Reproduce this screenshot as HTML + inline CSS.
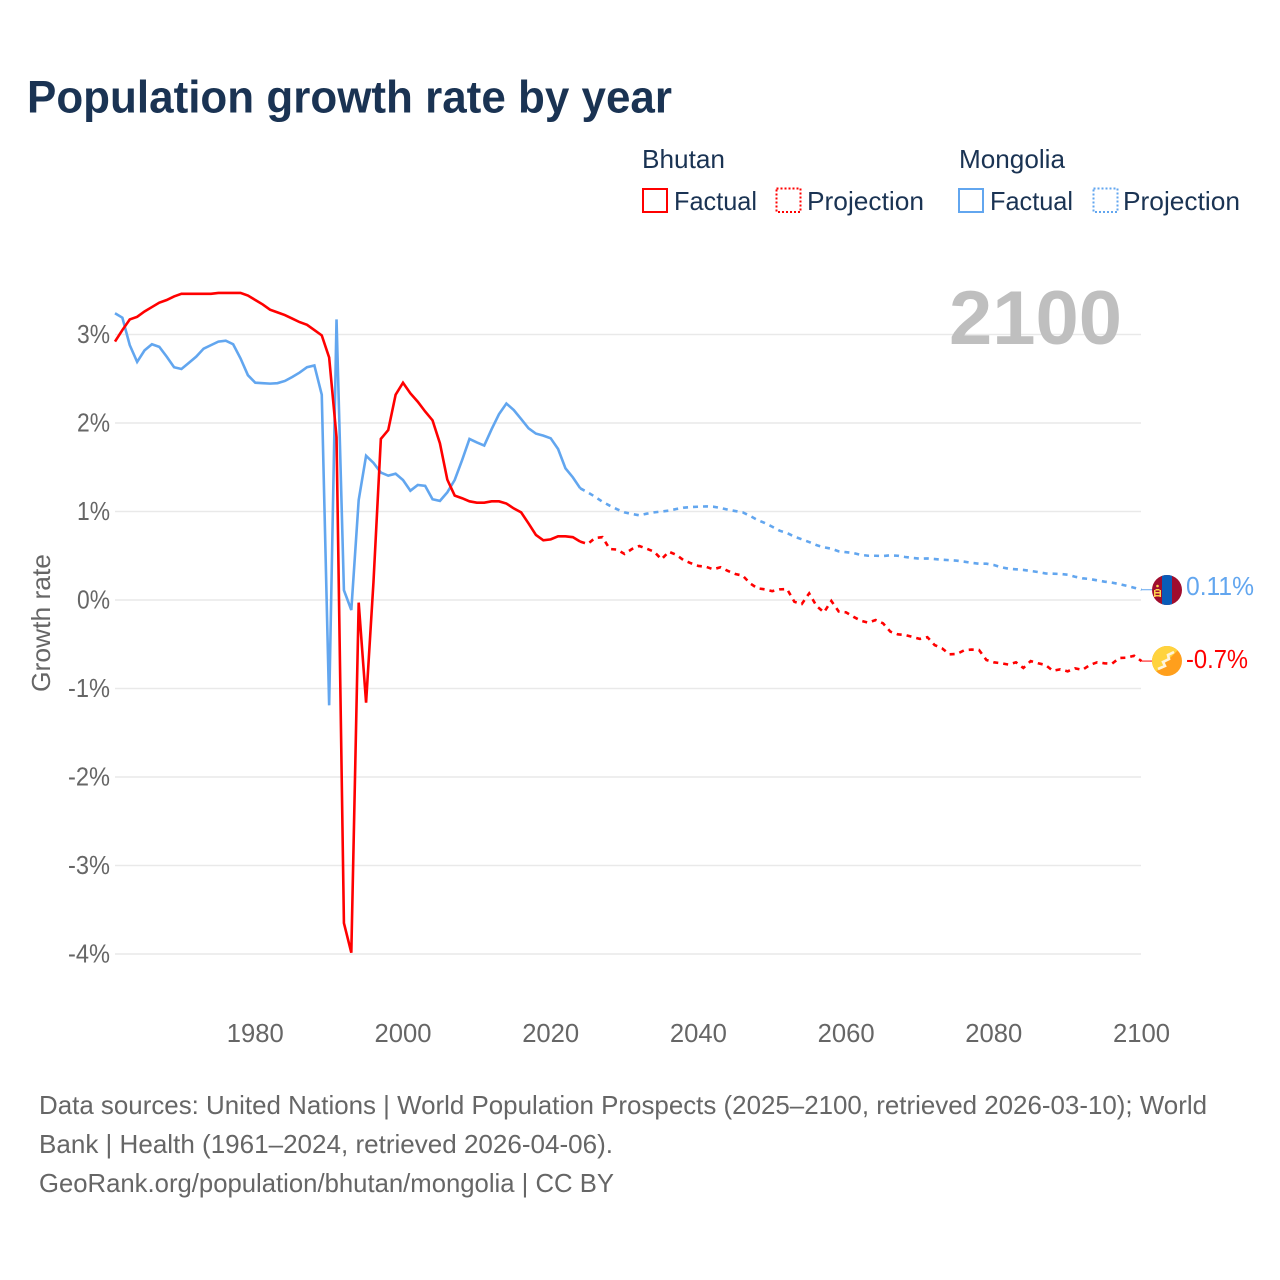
<!DOCTYPE html>
<html lang="en">
<head>
<meta charset="utf-8">
<title>Population growth rate by year</title>
<style>
html,body{margin:0;padding:0;background:#fff;}
svg{display:block;font-family:"Liberation Sans",sans-serif;}
</style>
</head>
<body>
<svg id="chart" xmlns="http://www.w3.org/2000/svg" width="1280" height="1280" viewBox="0 0 1280 1280">
  <rect width="1280" height="1280" fill="#ffffff"/>
  <text x="27" y="112.5" font-size="45" font-weight="700" fill="#1a3353" textLength="645" lengthAdjust="spacingAndGlyphs">Population growth rate by year</text>

  <g font-size="26" fill="#1a3353">
    <text x="642" y="168" textLength="83" lengthAdjust="spacingAndGlyphs">Bhutan</text>
    <rect x="643" y="189" width="24" height="23" fill="none" stroke="#ff0000" stroke-width="2"/>
    <text x="674" y="210" textLength="83" lengthAdjust="spacingAndGlyphs">Factual</text>
    <rect x="776.5" y="188.5" width="24" height="23.5" fill="none" stroke="#ff0000" stroke-width="2" stroke-dasharray="2 2"/>
    <text x="807" y="210" textLength="117" lengthAdjust="spacingAndGlyphs">Projection</text>
    <text x="959" y="168" textLength="106" lengthAdjust="spacingAndGlyphs">Mongolia</text>
    <rect x="959" y="189" width="24" height="23" fill="none" stroke="#62a6ef" stroke-width="2"/>
    <text x="990" y="210" textLength="83" lengthAdjust="spacingAndGlyphs">Factual</text>
    <rect x="1093.5" y="188.5" width="24" height="23.5" fill="none" stroke="#62a6ef" stroke-width="2" stroke-dasharray="2 2"/>
    <text x="1123" y="210" textLength="117" lengthAdjust="spacingAndGlyphs">Projection</text>
  </g>

  <g id="grid"></g>
  <text x="949" y="344" font-size="76" font-weight="700" fill="#bfbfbf" textLength="173" lengthAdjust="spacingAndGlyphs">2100</text>
  <g id="yticks" font-size="26" fill="#666666" text-anchor="end"></g>
  <g id="xticks" font-size="26" fill="#666666" text-anchor="middle"></g>
  <text transform="translate(50,692) rotate(-90)" font-size="26" fill="#666666" textLength="138" lengthAdjust="spacingAndGlyphs">Growth rate</text>
  <g id="series"></g>

  <defs>
    <clipPath id="flag-clip-mn"><circle cx="1167" cy="590" r="15"/></clipPath>
    <clipPath id="flag-clip-bt"><circle cx="1167" cy="661" r="15"/></clipPath>
  </defs>
  <g id="flag-mongolia" clip-path="url(#flag-clip-mn)">
    <rect x="1152" y="575" width="30" height="30" fill="#a00d2e"/>
    <rect x="1162" y="575" width="10" height="30" fill="#0a5cb8"/>
    <rect x="1154" y="590" width="1.5" height="7" fill="#ffd34d"/>
    <rect x="1159.5" y="590" width="1.5" height="7" fill="#ffd34d"/>
    <rect x="1155.5" y="589" width="4" height="1.5" fill="#ffd34d"/>
    <rect x="1155.5" y="592" width="4" height="1.5" fill="#ffd34d"/>
    <rect x="1155.5" y="595" width="4" height="1.5" fill="#ffd34d"/>
    <circle cx="1157.5" cy="586" r="1.3" fill="#ffd34d"/>
  </g>
  <g id="flag-bhutan" clip-path="url(#flag-clip-bt)">
    <rect x="1152" y="646" width="30" height="30" fill="#ff9f1c"/>
    <polygon points="1152,646 1182,646 1152,676" fill="#ffd33d"/>
    <polyline points="1174,652 1168,655 1169,659 1163,662 1165,666 1158,669" fill="none" stroke="#fff4dc" stroke-width="2.6"/>
  </g>

  <g id="endlabels" font-size="26"></g>

  <g font-size="26" fill="#666666">
    <text x="39" y="1114" textLength="1168" lengthAdjust="spacingAndGlyphs">Data sources: United Nations | World Population Prospects (2025–2100, retrieved 2026-03-10); World</text>
    <text x="39" y="1153" textLength="574" lengthAdjust="spacingAndGlyphs">Bank | Health (1961–2024, retrieved 2026-04-06).</text>
    <text x="39" y="1192" textLength="575" lengthAdjust="spacingAndGlyphs">GeoRank.org/population/bhutan/mongolia | CC BY</text>
  </g>
</svg>

<script>
const firstFactualYear = 1961;
const firstProjectionYear = 2025;
const yTickValues = [3, 2, 1, 0, -1, -2, -3, -4];
const xTickValues = [1980, 2000, 2020, 2040, 2060, 2080, 2100];
const bhutanEndLabel = "-0.7%";
const mongoliaEndLabel = "0.11%";

const bhutanFactual = [
  2.92,3.05,3.17,3.20,3.26,3.31,3.36,3.39,3.43,3.46,
  3.46,3.46,3.46,3.46,3.47,3.47,3.47,3.47,3.44,3.39,
  3.34,3.28,3.25,3.22,3.18,3.14,3.11,3.05,2.99,2.74,
  1.84,-3.65,-3.985,-0.03,-1.16,0.2,1.82,1.92,2.32,2.455,
  2.335,2.24,2.13,2.03,1.77,1.36,1.18,1.15,1.115,1.10,
  1.10,1.115,1.115,1.09,1.035,0.99,0.865,0.735,0.675,0.685,
  0.72,0.72,0.71,0.66
];
const bhutanProjection = [
  0.633,0.70,0.71,0.576,0.57,0.52,0.576,0.61,0.58,0.546,
  0.46,0.546,0.51,0.45,0.415,0.385,0.376,0.347,0.37,0.328,
  0.294,0.275,0.188,0.132,0.12,0.10,0.12,0.124,-0.02,-0.045,
  0.075,-0.068,-0.14,-0.011,-0.13,-0.14,-0.19,-0.234,-0.256,-0.226,
  -0.263,-0.358,-0.388,-0.395,-0.418,-0.44,-0.42,-0.51,-0.546,-0.614,
  -0.61,-0.568,-0.56,-0.565,-0.678,-0.704,-0.715,-0.73,-0.704,-0.768,
  -0.69,-0.715,-0.734,-0.80,-0.783,-0.806,-0.772,-0.79,-0.734,-0.704,
  -0.715,-0.72,-0.655,-0.652,-0.63,-0.69
];
const mongoliaFactual = [
  3.24,3.19,2.88,2.69,2.82,2.89,2.86,2.75,2.63,2.61,
  2.68,2.75,2.84,2.88,2.92,2.93,2.89,2.73,2.54,2.455,
  2.45,2.445,2.45,2.475,2.52,2.57,2.63,2.65,2.32,-1.19,
  3.17,0.11,-0.113,1.13,1.63,1.55,1.44,1.405,1.427,1.356,
  1.235,1.30,1.29,1.138,1.12,1.217,1.356,1.58,1.82,1.78,
  1.745,1.93,2.10,2.22,2.147,2.045,1.94,1.88,1.857,1.827,
  1.706,1.488,1.386,1.262
];
const mongoliaProjection = [
  1.217,1.167,1.11,1.066,1.025,0.99,0.972,0.957,0.975,0.99,
  1.0,1.01,1.028,1.043,1.05,1.054,1.058,1.054,1.04,1.02,
  1.005,0.99,0.95,0.904,0.87,0.828,0.783,0.757,0.715,0.686,
  0.655,0.62,0.595,0.58,0.55,0.54,0.53,0.51,0.50,0.50,
  0.497,0.505,0.50,0.486,0.475,0.467,0.47,0.463,0.455,0.45,
  0.444,0.433,0.42,0.41,0.41,0.395,0.37,0.354,0.347,0.34,
  0.328,0.316,0.30,0.297,0.294,0.286,0.263,0.245,0.237,0.222,
  0.207,0.196,0.18,0.16,0.139,0.116
];

const SVG_NS = "http://www.w3.org/2000/svg";
const RED = "#ff0000";
const BLUE = "#62a6ef";
function xScale(year) { return 1141.5 - (2100 - year) * 7.385; }
function yScale(value) { return 600 - 88.5 * value; }
function pathFrom(values, startYear, lead) {
  let pts = [];
  if (lead !== undefined) pts.push([xScale(startYear - 1), yScale(lead)]);
  values.forEach(function (v, i) { pts.push([xScale(startYear + i), yScale(v)]); });
  return pts.map(function (p, i) { return (i ? "L" : "M") + p[0].toFixed(2) + " " + p[1].toFixed(2); }).join(" ");
}

const grid = document.getElementById("grid");
const yticks = document.getElementById("yticks");
yTickValues.forEach(function (v) {
  const line = document.createElementNS(SVG_NS, "line");
  
  
  line.setAttribute("x1", 115);
  line.setAttribute("x2", 1141);
  line.setAttribute("y1", yScale(v));
  line.setAttribute("y2", yScale(v));
  line.setAttribute("stroke", "#e9e9e9");
  line.setAttribute("stroke-width", 1.5);
  grid.appendChild(line);
  const t = document.createElementNS(SVG_NS, "text");
  
  
  t.setAttribute("x", 110);
  t.setAttribute("y", yScale(v) + 8.5);
  t.setAttribute("textLength", v < 0 ? 42 : 33);
  t.setAttribute("lengthAdjust", "spacingAndGlyphs");
  t.textContent = v + "%";
  yticks.appendChild(t);
});

const xticks = document.getElementById("xticks");
xTickValues.forEach(function (yr) {
  const t = document.createElementNS(SVG_NS, "text");
  
  
  t.setAttribute("x", xScale(yr));
  t.setAttribute("y", 1042);
  t.setAttribute("textLength", 57);
  t.setAttribute("lengthAdjust", "spacingAndGlyphs");
  t.textContent = yr;
  xticks.appendChild(t);
});

const seriesGroup = document.getElementById("series");

const mnFactualPath = document.createElementNS(SVG_NS, "path");


mnFactualPath.setAttribute("d", pathFrom(mongoliaFactual, firstFactualYear));
mnFactualPath.setAttribute("fill", "none");
mnFactualPath.setAttribute("stroke", BLUE);
mnFactualPath.setAttribute("stroke-width", 2.6);
seriesGroup.appendChild(mnFactualPath);

const mnProjectionPath = document.createElementNS(SVG_NS, "path");


mnProjectionPath.setAttribute("d", pathFrom(mongoliaProjection, firstProjectionYear, mongoliaFactual[mongoliaFactual.length - 1]));
mnProjectionPath.setAttribute("fill", "none");
mnProjectionPath.setAttribute("stroke", BLUE);
mnProjectionPath.setAttribute("stroke-width", 2.6);
mnProjectionPath.setAttribute("stroke-dasharray", "5 5");
seriesGroup.appendChild(mnProjectionPath);

const btFactualPath = document.createElementNS(SVG_NS, "path");


btFactualPath.setAttribute("d", pathFrom(bhutanFactual, firstFactualYear));
btFactualPath.setAttribute("fill", "none");
btFactualPath.setAttribute("stroke", RED);
btFactualPath.setAttribute("stroke-width", 2.6);
seriesGroup.appendChild(btFactualPath);

const btProjectionPath = document.createElementNS(SVG_NS, "path");


btProjectionPath.setAttribute("d", pathFrom(bhutanProjection, firstProjectionYear, bhutanFactual[bhutanFactual.length - 1]));
btProjectionPath.setAttribute("fill", "none");
btProjectionPath.setAttribute("stroke", RED);
btProjectionPath.setAttribute("stroke-width", 2.6);
btProjectionPath.setAttribute("stroke-dasharray", "5 5");
seriesGroup.appendChild(btProjectionPath);

const mnLast = mongoliaProjection[mongoliaProjection.length - 1];
const btLast = bhutanProjection[bhutanProjection.length - 1];

const mnConnector = document.createElementNS(SVG_NS, "line");


mnConnector.setAttribute("x1", xScale(2100));
mnConnector.setAttribute("x2", 1152);
mnConnector.setAttribute("y1", yScale(mnLast));
mnConnector.setAttribute("y2", yScale(mnLast));
mnConnector.setAttribute("stroke", BLUE);
mnConnector.setAttribute("stroke-width", 1);
seriesGroup.appendChild(mnConnector);

const btConnector = document.createElementNS(SVG_NS, "line");


btConnector.setAttribute("x1", xScale(2100));
btConnector.setAttribute("x2", 1152);
btConnector.setAttribute("y1", yScale(btLast));
btConnector.setAttribute("y2", yScale(btLast));
btConnector.setAttribute("stroke", RED);
btConnector.setAttribute("stroke-width", 1);
seriesGroup.appendChild(btConnector);

const endLabels = document.getElementById("endlabels");

const mnLabel = document.createElementNS(SVG_NS, "text");


mnLabel.setAttribute("x", 1186);
mnLabel.setAttribute("y", 595);
mnLabel.setAttribute("fill", BLUE);
mnLabel.setAttribute("textLength", 68);
mnLabel.setAttribute("lengthAdjust", "spacingAndGlyphs");
mnLabel.textContent = mongoliaEndLabel;
endLabels.appendChild(mnLabel);

const btLabel = document.createElementNS(SVG_NS, "text");


btLabel.setAttribute("x", 1186);
btLabel.setAttribute("y", 668);
btLabel.setAttribute("fill", RED);
btLabel.setAttribute("textLength", 62);
btLabel.setAttribute("lengthAdjust", "spacingAndGlyphs");
btLabel.textContent = bhutanEndLabel;
endLabels.appendChild(btLabel);
</script>
</body>
</html>
